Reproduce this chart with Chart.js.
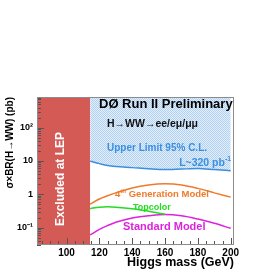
<!DOCTYPE html>
<html>
<head>
<meta charset="utf-8">
<script src="https://cdn.jsdelivr.net/npm/chart.js@4"></script>
<style>
    body { margin: 0; background: #fff; }
    #graphchart { display: block; }
</style>
</head>
<body>
<canvas id="graphchart" width="266" height="273"></canvas>
<script>
// values (Higgs mass in GeV, cross section in pb)
var massPoints = [114.4, 120, 125, 130, 140, 150, 160, 170, 180, 190, 200]
var upperLimit = [9.8, 8.3, 7.3, 6.8, 6.3, 5.8, 5.5, 5.7, 5.9, 5.5, 5.1]
var fourthGen = [0.5, 0.72, 0.9, 1.1, 1.55, 1.9, 2.05, 1.9, 1.5, 1.1, 0.82]
var standardModel = [0.06, 0.088, 0.115, 0.145, 0.195, 0.225, 0.245, 0.225, 0.18, 0.135, 0.095]
var topcolorMass = [114.4, 120, 125, 130, 140, 150, 155, 160]
var topcolor = [0.37, 0.41, 0.42, 0.41, 0.37, 0.31, 0.28, 0.25]
var lepMass = [82, 114.4]
var lepFloor = [0.03, 0.03]
var xTicks = [100, 120, 140, 160, 180, 200]
var yTicks = [0.1, 1, 10, 100]
var yTickLabels = ['10⁻¹', '1', '10', '10²']

var FONT = '"Liberation Sans", Arial, sans-serif'

function pts(xs, ys) {
    return xs.map(function (x, i) { return { x: x, y: ys[i] } })
}

function hatch() {
    var c = document.createElement('canvas')
    c.width = 2; c.height = 2
    var g = c.getContext('2d')
    g.fillStyle = '#e4effb'
    g.fillRect(0, 0, 2, 2)
    g.fillStyle = '#b0d1f2'
    g.fillRect(0, 0, 1, 1)
    g.fillRect(1, 1, 1, 1)
    return g.createPattern(c, 'repeat')
}

// text pieces: [text, superscript?]
function drawParts(ctx, parts, x, y, size, color, alignRight) {
    ctx.fillStyle = color
    ctx.textBaseline = 'alphabetic'
    ctx.textAlign = 'left'
    var w = 0
    parts.forEach(function (p) {
        ctx.font = 'bold ' + (p[1] ? size * 0.65 : size) + 'px ' + FONT
        w += ctx.measureText(p[0]).width
    })
    var cx = alignRight ? x - w : x
    parts.forEach(function (p) {
        ctx.font = 'bold ' + (p[1] ? size * 0.65 : size) + 'px ' + FONT
        ctx.fillText(p[0], cx, p[1] ? y - size * 0.45 : y)
        cx += ctx.measureText(p[0]).width
    })
}

var decorations = {
    id: 'decorations',
    afterDatasetsDraw: function (chart) {
        var ctx = chart.ctx
        var a = chart.chartArea
        var xs = chart.scales.x
        var ys = chart.scales.y
        ctx.save()

        // inward tick marks, ROOT style
        ctx.strokeStyle = '#555'
        ctx.lineWidth = 1
        ctx.beginPath()
        for (var d = -2; d <= 3; d++) {
            for (var m = 1; m <= 9; m++) {
                var v = m * Math.pow(10, d)
                if (v < ys.min || v > ys.max) continue
                var py = Math.round(ys.getPixelForValue(v)) + 0.5
                ctx.moveTo(a.left, py)
                ctx.lineTo(a.left + (m === 1 ? 7 : 4), py)
            }
        }
        for (var g = 85; g <= 200; g += 5) {
            var px = Math.round(xs.getPixelForValue(g)) + 0.5
            ctx.moveTo(px, a.bottom)
            ctx.lineTo(px, a.bottom - (g % 20 === 0 ? 7 : 4))
        }
        ctx.stroke()

        // frame
        ctx.strokeStyle = '#8c8c8c'
        ctx.strokeRect(a.left + 0.5, a.top + 0.5, a.right - a.left - 1, a.bottom - a.top - 1)

        // annotations
        drawParts(ctx, [['DØ Run II Preliminary', false]], 99, 108, 13, '#000', false)
        drawParts(ctx, [['H→WW→ee/eμ/μμ', false]], 107, 127, 10.5, '#111', false)
        drawParts(ctx, [['Upper Limit 95% C.L.', false]], 107, 151, 10, '#3a8fe0', false)
        drawParts(ctx, [['L~320 pb', false], ['-1', true]], 231, 166, 10.5, '#3a8fe0', true)
        drawParts(ctx, [['4', false], ['th', true], [' Generation Model', false]], 115, 197, 9.5, '#ee7a2c', false)
        drawParts(ctx, [['Topcolor', false]], 133, 210, 9, '#22dd22', false)
        drawParts(ctx, [['Standard Model', false]], 123, 230, 11, '#dd22dd', false)

        ctx.translate(61, 179)
        ctx.rotate(-Math.PI / 2)
        ctx.font = 'bold 12px ' + FONT
        ctx.fillStyle = '#fff'
        ctx.textAlign = 'center'
        ctx.textBaseline = 'middle'
        ctx.fillText('Excluded at LEP', 0, 0)
        ctx.restore()
    }
}

var lineChart = null

function showgraphic() {
    var ctx = document.getElementById('graphchart')

    lineChart = new Chart(ctx, {
        type: 'line',
        data: {
            datasets: [{
                label: 'Excluded at LEP',
                data: pts(lepMass, lepFloor),
                fill: 'end',
                backgroundColor: '#d45a55',
                borderWidth: 0,
                pointRadius: 0
            }, {
                label: 'Upper Limit 95% C.L.',
                data: pts(massPoints, upperLimit),
                fill: 'end',
                backgroundColor: hatch(),
                borderColor: '#3a8fe0',
                borderWidth: 1.5,
                pointRadius: 0,
                cubicInterpolationMode: 'monotone'
            }, {
                label: '4th Generation Model',
                data: pts(massPoints, fourthGen),
                borderColor: '#ee7a2c',
                borderWidth: 1.5,
                pointRadius: 0,
                cubicInterpolationMode: 'monotone'
            }, {
                label: 'Topcolor',
                data: pts(topcolorMass, topcolor),
                borderColor: '#22dd22',
                borderWidth: 1.5,
                pointRadius: 0,
                cubicInterpolationMode: 'monotone'
            }, {
                label: 'Standard Model',
                data: pts(massPoints, standardModel),
                borderColor: '#dd22dd',
                borderWidth: 1.5,
                pointRadius: 0,
                cubicInterpolationMode: 'monotone'
            }]
        },
        options: {
            responsive: false,
            animation: false,
            layout: {
                padding: { top: 97, right: 32, left: 0, bottom: 0 }
            },
            scales: {
                x: {
                    type: 'linear',
                    min: 82,
                    max: 202,
                    afterBuildTicks: function (scale) {
                        scale.ticks = xTicks.map(function (v) { return { value: v } })
                    },
                    afterFit: function (scale) {
                        scale.height = 28
                        scale.paddingLeft = 0
                        scale.paddingRight = 0
                    },
                    grid: { display: false, drawTicks: false },
                    border: { display: false },
                    ticks: {
                        autoSkip: false,
                        maxRotation: 0,
                        padding: 2,
                        color: '#000',
                        font: { family: FONT, size: 10, weight: 'bold' }
                    },
                    title: {
                        display: true,
                        text: 'Higgs mass (GeV)',
                        align: 'end',
                        color: '#000',
                        padding: { top: 0, bottom: 3 },
                        font: { family: FONT, size: 12.5, weight: 'bold' }
                    }
                },
                y: {
                    type: 'logarithmic',
                    min: 0.03,
                    max: 830,
                    afterBuildTicks: function (scale) {
                        scale.ticks = yTicks.map(function (v) { return { value: v } })
                    },
                    afterFit: function (scale) {
                        scale.width = 37
                        scale.paddingTop = 0
                        scale.paddingBottom = 0
                    },
                    grid: { display: false, drawTicks: false },
                    border: { display: false },
                    ticks: {
                        autoSkip: false,
                        padding: 4,
                        color: '#000',
                        font: { family: FONT, size: 9, weight: 'bold' },
                        callback: function (v) {
                            var i = yTicks.indexOf(v)
                            return i < 0 ? '' : yTickLabels[i]
                        }
                    },
                    title: {
                        display: true,
                        text: 'σ×BR(H→WW) (pb)',
                        align: 'end',
                        color: '#000',
                        padding: { top: 4, bottom: 0 },
                        font: { family: FONT, size: 10, weight: 'bold' }
                    }
                }
            },
            plugins: {
                legend: { display: false },
                tooltip: { enabled: false }
            }
        },
        plugins: [decorations]
    })
}

document.addEventListener('DOMContentLoaded', showgraphic)
</script>
</body>
</html>
